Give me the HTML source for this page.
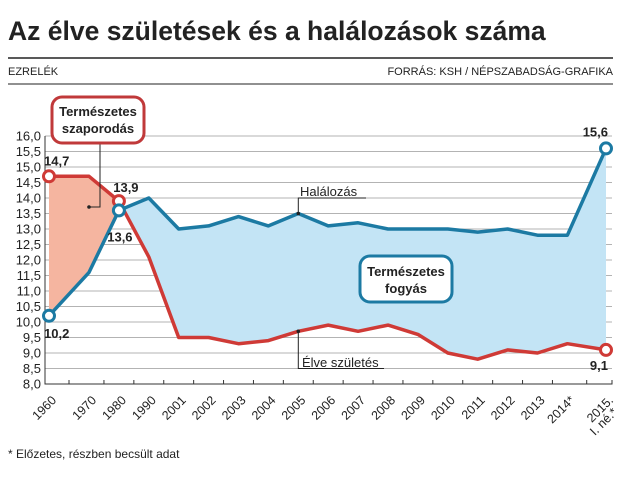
<!DOCTYPE html>
<html><head><meta charset="utf-8"><style>
body{margin:0;background:#fff;width:625px;height:477px;overflow:hidden;font-family:"Liberation Sans",sans-serif}
</style></head><body>
<svg width="625" height="477" xmlns="http://www.w3.org/2000/svg">
<text x="8" y="40" font-size="26.5" font-weight="bold" fill="#222">Az élve születések és a halálozások száma</text>
<line x1="8" y1="58" x2="613" y2="58" stroke="#222" stroke-width="1.5"/>
<text x="8" y="75" font-size="11" fill="#222">EZRELÉK</text>
<text x="613" y="75" font-size="11" fill="#222" text-anchor="end">FORRÁS: KSH / NÉPSZABADSÁG-GRAFIKA</text>
<line x1="8" y1="84" x2="613" y2="84" stroke="#222" stroke-width="1"/>
<defs>
<clipPath id="belowRed"><path id="cpBR"/></clipPath>
<clipPath id="aboveRed"><path id="cpAR"/></clipPath>
<clipPath id="belowBlue"><path id="cpBB"/></clipPath>
<clipPath id="aboveBlue"><path id="cpAB"/></clipPath>
</defs>
<g id="grid"></g>
<g clip-path="url(#aboveRed)"><path id="blueFill" fill="#c3e4f5" clip-path="url(#belowBlue)"/></g>
<g clip-path="url(#aboveBlue)"><path id="redFill" fill="#f5b5a0" clip-path="url(#belowRed)"/></g>
<g id="axes"></g>
<path id="deathLine" fill="none" stroke="#1c7aa3" stroke-width="3.5" stroke-linejoin="round"/>
<path id="birthLine" fill="none" stroke="#cf3a36" stroke-width="3.5" stroke-linejoin="round"/>
<g id="annot"></g>
<text x="8" y="458" font-size="12" fill="#222">* Előzetes, részben becsült adat</text>
</svg>
<script>
const categories=["1960","1970","1980","1990","2001","2002","2003","2004","2005","2006","2007","2008","2009","2010","2011","2012","2013","2014*","2015."];
const births=[14.7,14.7,13.9,12.1,9.5,9.5,9.3,9.4,9.7,9.9,9.7,9.9,9.6,9.0,8.8,9.1,9.0,9.3,9.1];
const deaths=[10.2,11.6,13.6,14.0,13.0,13.1,13.4,13.1,13.5,13.1,13.2,13.0,13.0,13.0,12.9,13.0,12.8,12.8,15.6];
const yTicks=[8.0,8.5,9.0,9.5,10.0,10.5,11.0,11.5,12.0,12.5,13.0,13.5,14.0,14.5,15.0,15.5,16.0];
const NS="http://www.w3.org/2000/svg";
const X0=45,X1=612,Y0=384,Ymin=8,Ymax=16,YT=136;
function y(v){return Y0-(v-Ymin)/(Ymax-Ymin)*(Y0-YT);}
function x(i){if(i===0)return 49;const n=categories.length-1;if(i===n)return 606;return 89+(i-1)*29.9;}
function mk(tag,attrs,parent){const e=document.createElementNS(NS,tag);for(const k in attrs)e.setAttribute(k,attrs[k]);parent.appendChild(e);return e;}
const grid=document.getElementById('grid'),axes=document.getElementById('axes'),annot=document.getElementById('annot');
yTicks.forEach(t=>{
 const l=mk('line',{x1:X0,x2:X1,y1:y(t),y2:y(t),stroke:'#9a9a9a','stroke-width':0.8},grid);
 
 
 const tx=mk('text',{x:X0-4,y:y(t)+4.5,'font-size':13,'text-anchor':'end',fill:'#222'},axes);
 tx.textContent=t.toFixed(1).replace('.',',');
 
 
});
const ax=mk('path',{d:`M${X0},${YT} V${Y0} H${X1} V${Y0-4}`,stroke:'#333',fill:'none','stroke-width':1},axes);


categories.forEach((c,i)=>{
 if(i<categories.length-1){const tx=(x(i)+x(i+1))/2;const t=mk('line',{x1:tx,x2:tx,y1:Y0,y2:Y0-4,stroke:'#333'},axes);
 
 }
 const px=x(i);
 const lab=mk('text',{transform:`translate(${px+8},${Y0+17}) rotate(-45)`,'font-size':12.5,'text-anchor':'end',fill:'#222'},axes);
 lab.textContent=c;
 
 
 if(i===categories.length-1){const l2=mk('text',{transform:`translate(${px+12},${Y0+29}) rotate(-45)`,'font-size':12.5,'text-anchor':'end',fill:'#222'},axes);
 l2.textContent='I. né.*';
 
 }
});
function linePts(arr){return arr.map((v,i)=>`${x(i)},${y(v)}`).join(' L');}
const bL='M'+linePts(births),dL='M'+linePts(deaths);
const xe=x(categories.length-1),xs=x(0);
document.getElementById('birthLine').setAttribute('d',bL);
document.getElementById('deathLine').setAttribute('d',dL);
document.getElementById('cpBR').setAttribute('d',bL+` L${xe},${Y0} L${xs},${Y0}Z`);
document.getElementById('cpAR').setAttribute('d',bL+` L${xe},0 L${xs},0Z`);
document.getElementById('cpBB').setAttribute('d',dL+` L${xe},${Y0} L${xs},${Y0}Z`);
document.getElementById('cpAB').setAttribute('d',dL+` L${xe},0 L${xs},0Z`);
const full=`M${xs},0 H${xe} V${Y0} H${xs}Z`;
document.getElementById('blueFill').setAttribute('d',full);
document.getElementById('redFill').setAttribute('d',full);
const bl=document.getElementById('birthLine');
const dl=document.getElementById('deathLine');
function marker(i,v,col,name){const c=mk('circle',{cx:x(i),cy:y(v),r:5.5,fill:'#fff',stroke:col,'stroke-width':3},annot);
 
 }
function label(px,py,txt,anchor,name,bold){const t=mk('text',{x:px,y:py,'font-size':13,'font-weight':bold?'bold':'normal','text-anchor':anchor,fill:'#222'},annot);
 t.textContent=txt;
 
 }
const n=categories.length-1;
marker(0,births[0],'#cf3a36','birth-marker-1960');
marker(2,births[2],'#cf3a36','birth-marker-1980');
marker(n,births[n],'#cf3a36','birth-marker-2015');
marker(0,deaths[0],'#1c7aa3','death-marker-1960');
marker(2,deaths[2],'#1c7aa3','death-marker-1980');
marker(n,deaths[n],'#1c7aa3','death-marker-2015');
label(x(0)-5,y(births[0])-11,births[0].toFixed(1).replace('.',','),'start','label-birth-1960',true);
label(x(2)+7,y(births[2])-9,births[2].toFixed(1).replace('.',','),'middle','label-birth-1980',true);
label(x(n)+2,y(births[n])+20,births[n].toFixed(1).replace('.',','),'end','label-birth-2015',true);
label(x(0)-5,y(deaths[0])+22,deaths[0].toFixed(1).replace('.',','),'start','label-death-1960',true);
label(x(2)+1,y(deaths[2])+31,deaths[2].toFixed(1).replace('.',','),'middle','label-death-1980',true);
label(x(n)+2,y(deaths[n])-12,deaths[n].toFixed(1).replace('.',','),'end','label-death-2015',true);
mk('path',{d:`M${x(8)},${y(deaths[8])} V${y(14.0)} H366`,stroke:'#222',fill:'none','stroke-width':1},annot);
mk('circle',{cx:x(8),cy:y(deaths[8]),r:1.8,fill:'#222'},annot);
label(300,196,'Halálozás','start','death-series-label',false);
mk('path',{d:`M${x(8)},${y(births[8])} V${y(8.5)} H384`,stroke:'#222',fill:'none','stroke-width':1},annot);
mk('circle',{cx:x(8),cy:y(births[8]),r:1.8,fill:'#222'},annot);
label(302,367,'Élve születés','start','birth-series-label',false);
mk('path',{d:`M100,143 V207 H90`,stroke:'#222',fill:'none','stroke-width':1},annot);
mk('circle',{cx:89,cy:207,r:1.8,fill:'#222'},annot);
const r1=mk('rect',{x:52,y:97,width:92,height:46,rx:10,fill:'#fff',stroke:'#c0393a','stroke-width':3},annot);


label(98,116,'Természetes','middle','natural-increase-line1',true);
label(98,133,'szaporodás','middle','natural-increase-line2',true);
const r2=mk('rect',{x:360,y:256,width:92,height:46,rx:10,fill:'#fff',stroke:'#1c7aa3','stroke-width':3},annot);


label(406,276,'Természetes','middle','natural-decrease-line1',true);
label(406,293,'fogyás','middle','natural-decrease-line2',true);
</script>
</body></html>
